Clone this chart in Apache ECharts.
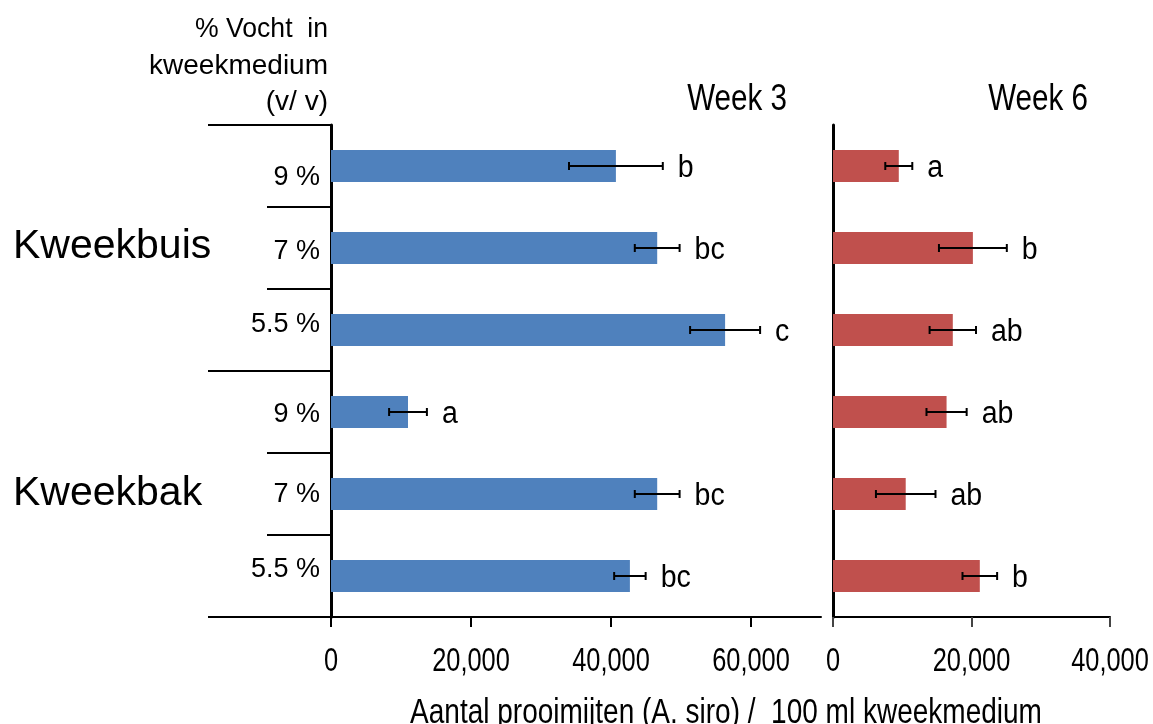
<!DOCTYPE html>
<html>
<head>
<meta charset="utf-8">
<script src="https://cdn.jsdelivr.net/npm/echarts@6/dist/echarts.min.js"></script>
<style>html,body{margin:0;padding:0;background:#fff}#c{width:1153px;height:724px}</style>
</head>
<body>
<div id="c"></div>
<script>
// ---- data ----
const categories = ['9 %', '7 %', '5.5 %', '9 %', '7 %', '5.5 %'];
const groups = ['Kweekbuis', 'Kweekbak'];
const week3Values = [40700, 46600, 56300, 11000, 46600, 42700];
const week3Errors = [6700, 3200, 5000, 2700, 3200, 2250];
const week3Letters = ['b', 'bc', 'c', 'a', 'bc', 'bc'];
const week6Values = [9500, 20200, 17300, 16400, 10500, 21200];
const week6Errors = [1950, 4900, 3350, 2900, 4300, 2500];
const week6Letters = ['a', 'b', 'ab', 'ab', 'ab', 'b'];
const week3Ticks = [0, 20000, 40000, 60000];
const week6Ticks = [0, 20000, 40000];
const panelTitles = ['Week 3', 'Week 6'];
const headerLines = ['% Vocht  in', 'kweekmedium', '(v/ v)'];
const xTitle = 'Aantal prooimijten (A. siro) /  100 ml kweekmedium';

// style only: vertical nudges of the category labels (px)
const labelShifts = [12, 4, -5, 3, 1, -6];

const REG = "'Liberation Sans', Arial, Helvetica, sans-serif";

const chart = echarts.init(document.getElementById('c'), null, {renderer: 'canvas'});

function errRender(errs, letters) {
  return function (params, api) {
    const m = api.value(0), c = api.value(1), e = errs[params.dataIndex];
    const p0 = api.coord([m - e, c]);
    const p1 = api.coord([m + e, c]);
    const cap = 4;
    const ls = {stroke: '#000', lineWidth: 2};
    return {
      type: 'group',
      children: [
        {type: 'line', shape: {x1: p0[0], y1: p0[1], x2: p1[0], y2: p1[1]}, style: ls},
        {type: 'line', shape: {x1: p0[0], y1: p0[1] - cap, x2: p0[0], y2: p0[1] + cap}, style: ls},
        {type: 'line', shape: {x1: p1[0], y1: p1[1] - cap, x2: p1[0], y2: p1[1] + cap}, style: ls},
        {type: 'text', x: p1[0] + 15, y: p1[1] + 2, scaleX: 0.92,
          style: {text: letters[params.dataIndex], fill: '#000', fontSize: 31, fontFamily: REG,
            align: 'left', verticalAlign: 'middle'}}
      ]
    };
  };
}

function tickLabelRender(params, api) {
  const v = api.value(0), c = api.value(1);
  const p = api.coord([v, c]);
  const band = api.size([0, 1])[1];
  return {type: 'text', x: p[0], y: p[1] + band / 2 + 45, scaleX: 0.77,
    style: {text: v.toLocaleString('en-US'), fill: '#000', fontSize: 33, fontFamily: REG,
      align: 'center', verticalAlign: 'middle'}};
}

function tableRender(params, api) {
  const i = api.value(1);
  const center = api.coord([0, i]);
  const band = api.size([0, 1])[1];
  const top = center[1] - band / 2;
  const longLen = 123, shortLen = 64;
  const children = [];
  const len = (i % 3 === 0) ? longLen : shortLen;
  children.push({type: 'line', shape: {x1: center[0] - len, y1: top, x2: center[0], y2: top},
    style: {stroke: '#000', lineWidth: 2}});
  if (i === categories.length - 1) {
    const bot = center[1] + band / 2;
    children.push({type: 'line', shape: {x1: center[0] - longLen, y1: bot, x2: center[0], y2: bot},
      style: {stroke: '#000', lineWidth: 2}});
  }
  return {type: 'group', children};
}

const last = categories.length - 1;
const richStyles = {};
labelShifts.forEach((s, i) => {
  richStyles['s' + i] = {fontSize: 27, fontFamily: REG, color: '#000',
    padding: s >= 0 ? [2 * s, 0, 0, 0] : [0, 0, -2 * s, 0]};
});

const option = {
  animation: false,
  backgroundColor: '#fff',
  grid: [
    {left: 331, top: 125, width: 490, height: 492, outerBoundsMode: 'none', containLabel: false},
    {left: 833, top: 125, width: 277, height: 492, outerBoundsMode: 'none', containLabel: false}
  ],
  xAxis: [
    {type: 'value', gridIndex: 0, min: 0, max: 70000, splitLine: {show: false},
      axisLine: {show: true, lineStyle: {color: '#000', width: 2}},
      axisTick: {show: true, length: 10, customValues: week3Ticks, lineStyle: {color: '#000', width: 2}},
      axisLabel: {show: false}},
    {type: 'value', gridIndex: 1, min: 0, max: 40000, splitLine: {show: false},
      axisLine: {show: true, lineStyle: {color: '#000', width: 2}},
      axisTick: {show: true, length: 10, customValues: week6Ticks, lineStyle: {color: '#444', width: 2}},
      axisLabel: {show: false}}
  ],
  yAxis: [
    {type: 'category', gridIndex: 0, data: categories, inverse: true,
      axisLine: {show: true, lineStyle: {color: '#000', width: 3}},
      axisTick: {show: false},
      axisLabel: {color: '#000', fontSize: 27, fontFamily: REG, margin: 11,
        formatter: (v, i) => '{s' + i + '|' + v + '}', rich: richStyles}},
    {type: 'category', gridIndex: 1, data: categories, inverse: true,
      axisLine: {show: true, lineStyle: {color: '#000', width: 3}},
      axisTick: {show: false}, axisLabel: {show: false}}
  ],
  series: [
    {type: 'bar', xAxisIndex: 0, yAxisIndex: 0, data: week3Values, barWidth: 32,
      itemStyle: {color: '#4F81BD'}},
    {type: 'bar', xAxisIndex: 1, yAxisIndex: 1, data: week6Values, barWidth: 32,
      itemStyle: {color: '#C0504D'}},
    {type: 'custom', xAxisIndex: 0, yAxisIndex: 0, clip: false, z: 5,
      data: week3Values.map((v, i) => [v, i]), renderItem: errRender(week3Errors, week3Letters)},
    {type: 'custom', xAxisIndex: 1, yAxisIndex: 1, clip: false, z: 5,
      data: week6Values.map((v, i) => [v, i]), renderItem: errRender(week6Errors, week6Letters)},
    {type: 'custom', xAxisIndex: 0, yAxisIndex: 0, clip: false, z: 4,
      data: categories.map((c, i) => [0, i]), renderItem: tableRender},
    {type: 'custom', xAxisIndex: 0, yAxisIndex: 0, clip: false, z: 4,
      data: week3Ticks.map(v => [v, last]), renderItem: tickLabelRender},
    {type: 'custom', xAxisIndex: 1, yAxisIndex: 1, clip: false, z: 4,
      data: week6Ticks.map(v => [v, last]), renderItem: tickLabelRender}
  ],
  graphic: [
    {type: 'text', x: 787, y: 100, scaleX: 0.8, style: {text: panelTitles[0], fontSize: 37, fontFamily: REG, fill: '#000', align: 'right', verticalAlign: 'middle'}},
    {type: 'text', x: 1088, y: 100, scaleX: 0.8, style: {text: panelTitles[1], fontSize: 37, fontFamily: REG, fill: '#000', align: 'right', verticalAlign: 'middle'}},
    {type: 'text', x: 13, y: 247, style: {text: groups[0], fontSize: 41, fontFamily: REG, fill: '#000', align: 'left', verticalAlign: 'middle'}},
    {type: 'text', x: 13, y: 494, style: {text: groups[1], fontSize: 41, fontFamily: REG, fill: '#000', align: 'left', verticalAlign: 'middle'}},
    {type: 'text', x: 328, y: 29, scaleX: 0.95, style: {text: headerLines[0], fontSize: 28, fontFamily: REG, fill: '#000', align: 'right', verticalAlign: 'middle'}},
    {type: 'text', x: 328, y: 66, style: {text: headerLines[1], fontSize: 28, fontFamily: REG, fill: '#000', align: 'right', verticalAlign: 'middle'}},
    {type: 'text', x: 328, y: 102, style: {text: headerLines[2], fontSize: 28, fontFamily: REG, fill: '#000', align: 'right', verticalAlign: 'middle'}},
    {type: 'text', x: 726, y: 713, scaleX: 0.8, style: {text: xTitle, fontSize: 35, fontFamily: REG, fill: '#000', align: 'center', verticalAlign: 'middle'}}
  ]
};
chart.setOption(option);
</script>
</body>
</html>
